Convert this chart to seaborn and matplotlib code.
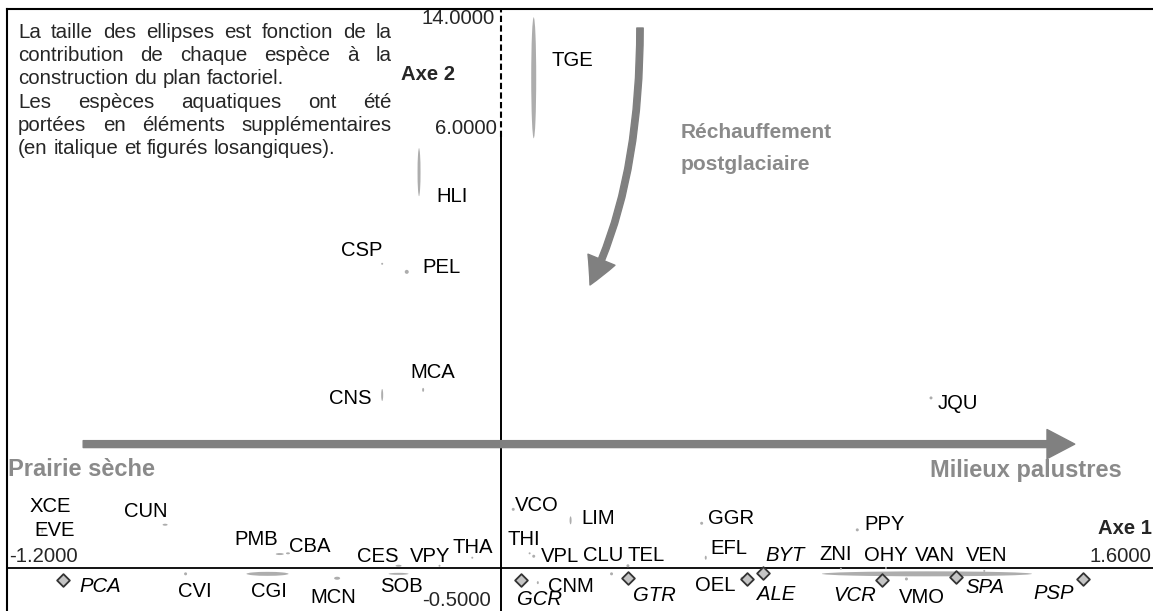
import matplotlib
matplotlib.use("Agg")
import numpy as np
import pandas as pd
import matplotlib.pyplot as plt
import seaborn as sns
from matplotlib.collections import EllipseCollection
from matplotlib.patches import FancyArrowPatch
from matplotlib.path import Path
from matplotlib.transforms import Affine2D

# ---------------- data ----------------
species = ["TGE", "HLI", "CSP", "PEL", "MCA", "CNS", "JQU", "XCE", "EVE", "CUN", "PMB", "CBA", "CES", "VPY", "THA",
           "CVI", "CGI", "MCN", "SOB", "VCO", "LIM", "THI", "VPL", "CLU", "TEL", "GGR", "EFL", "CNM", "OEL",
           "ZNI", "OHY", "VAN", "VEN", "PPY", "VMO"]
axe1 = [0.08, -0.20, -0.29, -0.23, -0.19, -0.29, 1.05, -1.12, -1.12, -0.82, -0.54, -0.52, -0.25, -0.15, -0.07,
        -0.77, -0.57, -0.40, -0.25, 0.03, 0.17, 0.07, 0.08, 0.27, 0.31, 0.49, 0.50, 0.09, 0.59,
        0.83, 0.94, 1.04, 1.18, 0.87, 0.99]
axe2 = [10.0, 5.40, 4.15, 4.04, 2.43, 2.36, 2.32, 0.52, 0.49, 0.59, 0.19, 0.20, 0.03, 0.03, 0.14,
        -0.08, -0.08, -0.14, -0.08, 0.80, 0.65, 0.20, 0.16, -0.08, 0.03, 0.61, 0.14, -0.20, -0.14,
        -0.01, 0.00, -0.08, -0.04, 0.52, -0.15]
# ellipse extents (contribution to the factorial plane), in pixels
contrib_w = [5, 3, 2, 4, 2, 2, 3, 2, 2, 5, 8, 4, 6, 2, 2,
             3, 42, 6, 20, 3, 2, 2, 3, 3, 3, 3, 2, 2, 4,
             2, 2, 210, 2, 3, 3]
contrib_h = [121, 48, 2, 4, 4, 12, 3, 2, 2, 2, 2, 2, 2, 2, 2,
             3, 4, 3, 2, 3, 8, 2, 3, 3, 3, 3, 4, 3, 3,
             2, 2, 5, 2, 3, 3]

supp_species = ["PCA", "GCR", "GTR", "ALE", "BYT", "VCR", "SPA", "PSP"]
supp_axe1 = [-1.07, 0.05, 0.31, 0.60, 0.64, 0.93, 1.11, 1.42]
supp_axe2 = [-0.16, -0.16, -0.14, -0.15, -0.07, -0.16, -0.12, -0.15]

# label offsets (pixels: right, down)
label_off = {
    "TGE": (39, -17), "HLI": (33, 24), "CSP": (-20, -13), "PEL": (35, -4), "MCA": (10, -17),
    "CNS": (-32, 4), "JQU": (27, 6), "XCE": (8, -23), "EVE": (12, -2), "CUN": (-19, -13),
    "PMB": (-24, -15), "CBA": (22, -7), "CES": (-21, -9), "VPY": (-9, -9), "THA": (0, -10),
    "CVI": (9, 18), "CGI": (1, 18), "MCN": (-4, 19), "SOB": (3, 13), "VCO": (24, -4),
    "LIM": (28, -2), "THI": (-6, -14), "VPL": (26, 0), "CLU": (-8, -18), "TEL": (18, -10),
    "GGR": (29, -5), "EFL": (23, -9), "CNM": (33, 4), "OEL": (-27, 7), "ZNI": (-5, -14),
    "OHY": (0, -12), "VAN": (8, -18), "VEN": (2, -15), "PPY": (27, -5), "VMO": (15, 19),
    "PCA": (37, 7), "GCR": (18, 20), "GTR": (26, 17), "ALE": (29, 16), "BYT": (22, -18),
    "VCR": (-27, 16), "SPA": (29, 11), "PSP": (-29, 15),
}

note_lines = [
    ("La taille des ellipses est fonction de la", True),
    ("contribution de chaque espèce à la", True),
    ("construction du plan factoriel.", False),
    ("Les espèces aquatiques ont été", True),
    ("portées en éléments supplémentaires", True),
    ("(en italique et figurés losangiques).", False),
]

# ---------------- style ----------------
sns.set_theme(style="white")
plt.rcParams["font.family"] = ["Liberation Sans", "DejaVu Sans"]

W, H = 1153, 611
fig = plt.figure(figsize=(W / 100, H / 100), dpi=100)
ax = fig.add_axes([7 / W, 0, (W - 7) / W, 602 / H])
pxT = Affine2D().scale(1, -1).translate(0, H)   # image pixel coords (top-left origin)

R = 12.6 / 73.3   # compression of the broken upper part of Axe 2


def fwd(y):
    y = np.asarray(y, dtype=float)
    return np.where(y <= 6, y, 6 + (y - 6) * R)


def inv(t):
    t = np.asarray(t, dtype=float)
    return np.where(t <= 6, t, 6 + (t - 6) / R)


df = pd.DataFrame({"species": species, "axe1": axe1, "axe2": axe2})
dfs = pd.DataFrame({"species": supp_species, "axe1": supp_axe1, "axe2": supp_axe2})

# supplementary species (diamonds)
sns.scatterplot(data=dfs, x="axe1", y="axe2", marker="D", s=42, color="#c4c4c4",
                edgecolor="#333333", linewidth=1.3, ax=ax, zorder=5, legend=False)

ax.set_yscale("function", functions=(fwd, inv))
ax.set_xlim(-1.206, 1.592)
ax.set_ylim(-0.587, 15.46)

# ellipses (active species)
ec = EllipseCollection(np.array(contrib_w, float), np.array(contrib_h, float), np.zeros(len(species)),
                       units="dots", offsets=df[["axe1", "axe2"]].to_numpy(),
                       offset_transform=ax.transData, facecolors="#adadad", edgecolors="none", zorder=3)
ax.add_collection(ec)

ax.set_xlabel("")
ax.set_ylabel("")
ax.set_xticks([])
ax.set_yticks([])
for s in ["bottom", "right"]:
    ax.spines[s].set_visible(False)
for s in ["left", "top"]:
    ax.spines[s].set_visible(True)
    ax.spines[s].set_color("black")
    ax.spines[s].set_linewidth(1.5)

# factorial axes
ax.axhline(0, color="black", lw=1.3, zorder=2)
ax.plot([0, 0], [-0.587, 5.88], color="black", lw=1.4, zorder=2)
ax.plot([0, 0], [5.88, 15.46], color="black", lw=1.5, ls=(0, (3, 1.6)), zorder=2)

FS = 14.6
for sp, x, y in zip(species, axe1, axe2):
    dx, dy = label_off[sp]
    ax.annotate(sp, (x, y), xytext=(dx, -dy), textcoords="offset pixels",
                ha="center", va="center", fontsize=FS, color="black", zorder=6)
for sp, x, y in zip(supp_species, supp_axe1, supp_axe2):
    dx, dy = label_off[sp]
    ax.annotate(sp, (x, y), xytext=(dx, -dy), textcoords="offset pixels",
                ha="center", va="center", fontsize=FS, style="italic", color="black", zorder=6)

# axis value labels
ax.text(9, 556, "-1.2000", transform=pxT, ha="left", va="center", fontsize=FS)
ax.text(1151, 556, "1.6000", transform=pxT, ha="right", va="center", fontsize=FS)
ax.text(495, 19, "14.0000", transform=pxT, ha="right", va="center", fontsize=FS)
ax.text(497, 128, "6.0000", transform=pxT, ha="right", va="center", fontsize=FS)
ax.text(491, 601, "-0.5000", transform=pxT, ha="right", va="center", fontsize=FS)
ax.text(1152, 528, "Axe 1", transform=pxT, ha="right", va="center", fontsize=FS, weight="bold")
ax.text(428, 74, "Axe 2", transform=pxT, ha="center", va="center", fontsize=FS, weight="bold")

# gradient interpretations
GREY = "#8a8a8a"
ax.text(8, 470, "Prairie sèche", transform=pxT, ha="left", va="center", fontsize=17,
        weight="bold", color=GREY)
ax.text(930, 470, "Milieux palustres", transform=pxT, ha="left", va="center", fontsize=17,
        weight="bold", color=GREY)
ax.text(681, 132, "Réchauffement", transform=pxT, ha="left", va="center", fontsize=15,
        weight="bold", color=GREY)
ax.text(681, 165, "postglaciaire", transform=pxT, ha="left", va="center", fontsize=15,
        weight="bold", color=GREY)

ARROW = "#808080"
ha = FancyArrowPatch((-1.02, 1.69), (1.401, 1.69), transform=ax.transData,
                     arrowstyle="simple,head_length=20,head_width=21,tail_width=5",
                     mutation_scale=1, shrinkA=0, shrinkB=0, color=ARROW, zorder=4)
ax.add_patch(ha)
curve = Path([(640, 28), (640, 185), (590, 285)], [Path.MOVETO, Path.CURVE3, Path.CURVE3])
va_ = FancyArrowPatch(path=curve, transform=pxT,
                      arrowstyle="simple,head_length=20,head_width=21,tail_width=4.6",
                      mutation_scale=1, color=ARROW, zorder=4)
ax.add_patch(va_)

# justified note
renderer = fig.canvas.get_renderer()
NFS = 14.8
x0, x1 = 18, 392
baselines = [38, 61, 84, 108, 131, 154]
probe = ax.text(0, 0, "a a", transform=pxT, fontsize=NFS)
probe2 = ax.text(0, 0, "aa", transform=pxT, fontsize=NFS)
space_w = probe.get_window_extent(renderer).width - probe2.get_window_extent(renderer).width
probe.remove()
probe2.remove()
for (line, just), yb in zip(note_lines, baselines):
    words = line.split(" ")
    texts = [ax.text(0, yb, w, transform=pxT, fontsize=NFS, ha="left", va="baseline") for w in words]
    widths = [t.get_window_extent(renderer).width for t in texts]
    if just and len(words) > 1:
        gap = (x1 - x0 - sum(widths)) / (len(words) - 1)
    else:
        gap = space_w
    x = x0
    for t, w in zip(texts, widths):
        t.set_position((x, yb))
        x += w + gap

fig.savefig("out.png", dpi=100)
